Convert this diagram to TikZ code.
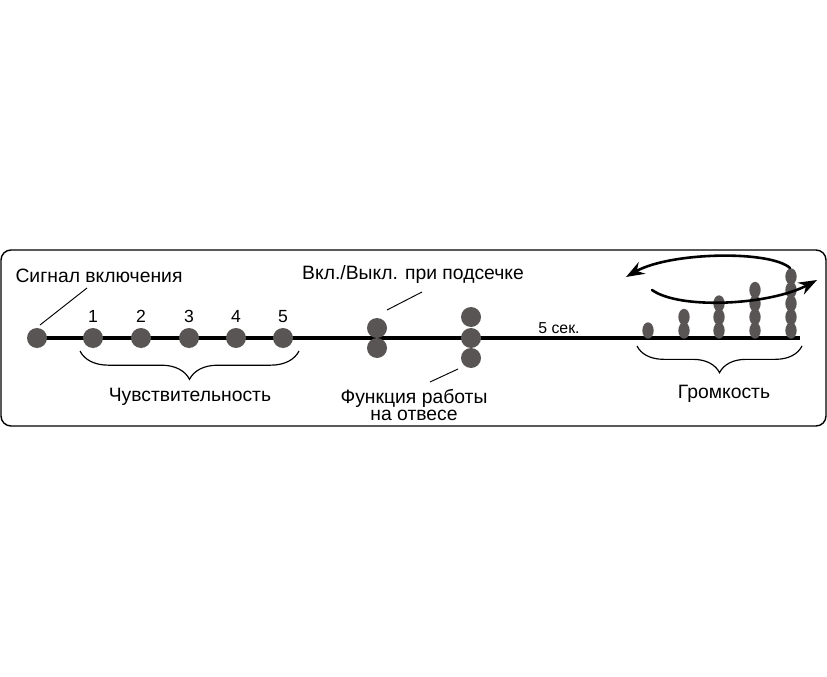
\documentclass[tikz,border=0pt]{standalone}
\usepackage{fontspec}
\setmainfont{Liberation Sans}
\usepackage{tikz}
\usetikzlibrary{arrows.meta,positioning,shapes.geometric,backgrounds,decorations.pathreplacing}
\definecolor{dotgrey}{RGB}{90,85,85}
\tikzset{
  sdot/.style  ={circle, fill=dotgrey, minimum size=6mm, inner sep=0pt},
  vdot/.style  ={ellipse, fill=dotgrey, minimum width=3.4mm, minimum height=4.9mm, inner sep=0pt},
  tline/.style ={line width=2.6pt, black},
  leader/.style={line width=0.8pt, black},
  sbrace/.style={decorate, decoration={brace, mirror, amplitude=8.5mm}, line width=1pt},
  lbl/.style   ={font=\fontsize{16.5}{17}\selectfont, inner sep=0pt},
  numlbl/.style={font=\fontsize{15}{16}\selectfont, inner sep=0pt},
  frame/.style ={rounded corners=3mm, line width=1.2pt},
  swirl/.style ={line width=2.2pt, line cap=round, -{Stealth[length=5.5mm, width=4mm]}},
}
\begin{document}
\begin{tikzpicture}[x=0.3mm, y=-0.3mm]
  \useasboundingbox (0,0) rectangle (827,677);
  \draw[frame] (1,250) rectangle (826,426);

  \node[sdot] (s0) at (37,338) {};
  \coordinate (tend) at (800,338);
  \foreach \i/\x in {1/93,2/141,3/189,4/236,5/283} {
    \node[sdot] (s\i) at (\x,338) {};
    \node[numlbl, above=1.5mm of s\i] (n\i) {\i};
  }
  \node[sdot] (h1) at (377,328) {};
  \node[sdot] (h2) at (377,348) {};
  \node[sdot] (p1) at (471,317) {};
  \node[sdot] (p2) at (471,338) {};
  \node[sdot] (p3) at (471,358) {};
  \foreach \c/\x in {1/648,2/684,3/719,4/755,5/791} {
    \foreach \k in {1,...,\c} {\node[vdot] (v\c\k) at (\x,344-13.5*\k) {};}
  }
  \begin{scope}[on background layer]
    \draw[tline] (s0.center) -- (tend);
  \end{scope}

  \node[lbl] (lsig) at (99,276) {Сигнал включения};
  \coordinate (l0a) at (40,325); \coordinate (l0b) at (87,288);
  \draw[leader] (l0a) -- (l0b);
  \node[lbl] (lhook) at (413,275) {Вкл./Выкл. при подсечке};
  \coordinate (l1a) at (387,310); \coordinate (l1b) at (422,292);
  \draw[leader] (l1a) -- (l1b);
  \node[lbl, align=center, font=\fontsize{16.5}{15}\selectfont] (lplumb) at (414,405)
    {Функция работы\\на отвесе};
  \coordinate (l2a) at (458,369); \coordinate (l2b) at (430,382);
  \draw[leader] (l2a) -- (l2b);
  \node[lbl, font=\fontsize{13.5}{14}\selectfont] (lsec) at (559,328) {5 сек.};

  \coordinate (b1a) at (80,351); \coordinate (b1b) at (299,351);
  \draw[sbrace] (b1a) -- (b1b);
  \node[lbl] (lsens) at (190,397) {Чувствительность};
  \coordinate (b2a) at (637,346); \coordinate (b2b) at (802,346);
  \draw[sbrace, decoration={amplitude=8mm}] (b2a) -- (b2b);
  \node[lbl] (lvol) at (724,394) {Громкость};

  \coordinate (a1s) at (790,268); \coordinate (a1e) at (626,277);
  \coordinate (a2s) at (652,290); \coordinate (a2e) at (817,280);
  \draw[swirl] (a1s) .. controls (770,250) and (670,252) .. (a1e);
  \draw[swirl] (a2s) .. controls (680,310) and (770,305) .. (a2e);
\end{tikzpicture}
\end{document}
